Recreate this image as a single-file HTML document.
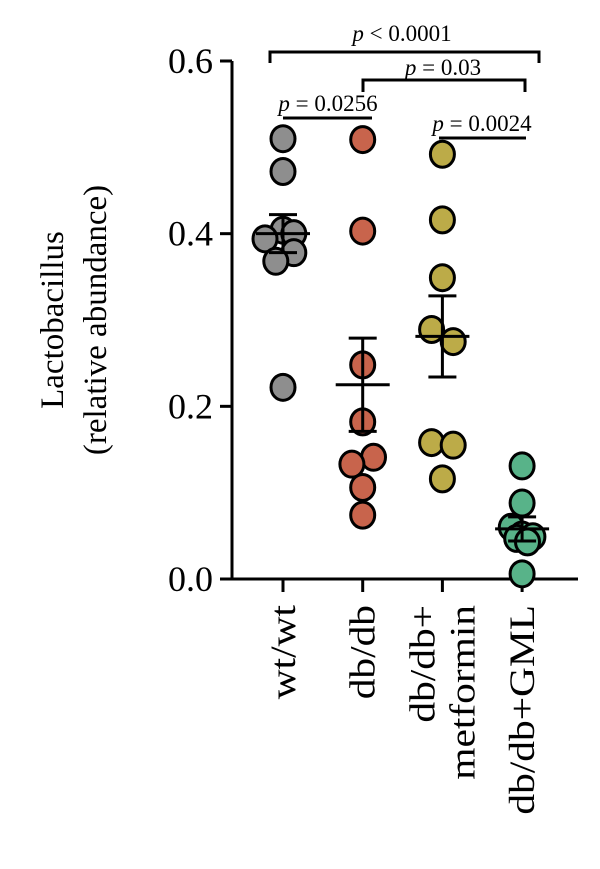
<!DOCTYPE html>
<html><head><meta charset="utf-8"><style>
html,body{margin:0;padding:0;background:#fff;}
svg{display:block;font-family:"Liberation Serif",serif;}
</style></head><body>
<svg id="chart" width="600" height="869">
<g id="axes"></g><g id="marks"></g><g id="ann"></g>
</svg>
<script>
const categories = ["wt/wt","db/db","db/db+ metformin","db/db+GML"];
const wtValues = [0.51,0.472,0.404,0.40,0.394,0.378,0.368,0.222];
const dbValues = [0.509,0.403,0.248,0.182,0.141,0.133,0.106,0.074];
const metValues = [0.492,0.416,0.349,0.289,0.275,0.158,0.155,0.116];
const gmlValues = [0.131,0.088,0.06,0.051,0.049,0.047,0.043,0.006];
const means = [0.40,0.225,0.281,0.058];
const sems = [0.022,0.054,0.047,0.014];
const yTicks = [0.0,0.2,0.4,0.6];
const yTickLabels = ["0.0","0.2","0.4","0.6"];
const wtJit=[0,0,0,0.6,-1,0.6,-0.4,0], dbJit=[0,0,0,0,0.6,-0.6,0,0], metJit=[0,0,0,-0.6,0.6,-0.6,0.6,0], gmlJit=[0,0,-0.6,0,0.6,-0.3,0.3,0];
const colors=["#8e8e8e","#c8644c","#bcab48","#58b389"];
const NS="http://www.w3.org/2000/svg";
const y=v=>579-v*(518/0.6);
const x=i=>283+i*79.7;
function mk(tag,attrs,parent,txt){const e=document.createElementNS(NS,tag);for(const k in attrs)e.setAttribute(k,attrs[k]);if(txt!=null)e.textContent=txt;parent.appendChild(e);return e;}
const axes=document.getElementById('axes'),marks=document.getElementById('marks'),ann=document.getElementById('ann');
let a=mk('line',{x1:232,y1:y(0.6),x2:232,y2:580.5,stroke:'#000','stroke-width':3},axes);


a=mk('line',{x1:230.5,y1:579,x2:578,y2:579,stroke:'#000','stroke-width':3},axes);


yTicks.forEach((t,i)=>{
 let l=mk('line',{x1:220,x2:232,y1:y(t),y2:y(t),stroke:'#000','stroke-width':3},axes);
 
 
 let tx=mk('text',{x:213,y:y(t)+12,'text-anchor':'end','font-size':36},axes,yTickLabels[i]);
 
 
});
let yt=mk('text',{transform:'translate(63,320) rotate(-90)','text-anchor':'middle','font-size':33},axes,'Lactobacillus');


yt=mk('text',{transform:'translate(106,320) rotate(-90)','text-anchor':'middle','font-size':33},axes,'(relative abundance)');


const xl=[["wt/wt"],["db/db"],["db/db+","metformin"],["db/db+GML"]];
categories.forEach((c,i)=>{
 let l=mk('line',{x1:x(i),x2:x(i),y1:579,y2:592,stroke:'#000','stroke-width':3},axes);
 
 
 const lines=xl[i];
 lines.forEach((s,j)=>{
  const off=(j-(lines.length-1)/2)*40;
  let t=mk('text',{transform:`translate(${x(i)+off+12},605) rotate(-90) scale(1.15,1)`,'text-anchor':'end','font-size':36},axes,s);
  
  
 });
});
const series=[wtValues,dbValues,metValues,gmlValues], jits=[wtJit,dbJit,metJit,gmlJit];
series.forEach((vals,i)=>{
 vals.forEach((v,k)=>{
  let c=mk('ellipse',{cx:x(i)+jits[i][k]*18,cy:y(v),rx:12,ry:13,fill:colors[i],stroke:'#000','stroke-width':3},marks);
  
  
 });
 const m=means[i],s=sems[i];
 let g=mk('path',{d:`M${x(i)-27},${y(m)}H${x(i)+27}M${x(i)},${y(m+s)}V${y(m-s)}M${x(i)-14},${y(m+s)}H${x(i)+14}M${x(i)-14},${y(m-s)}H${x(i)+14}`,stroke:'#000','stroke-width':3,fill:'none'},marks);
 
 
});
function br(d,name){let p=mk('path',{d,stroke:'#000','stroke-width':3,fill:'none'},ann);}
function lab(xx,yy,txt,name){let t=mk('text',{x:xx,y:yy,'text-anchor':'middle','font-size':23},ann);mk('tspan',{'font-style':'italic'},t,'p');mk('tspan',{},t,txt);}
br('M270,63V52H539V63','bracket-wt-gml');lab(402,41,' < 0.0001','p-label-wt-gml');
br('M363,92V80H525V92','bracket-db-gml');lab(443,75,' = 0.03','p-label-db-gml');
br('M283,118H372','line-wt-db');lab(328,111,' = 0.0256','p-label-wt-db');
br('M439,138H526','line-met-gml');lab(482,131,' = 0.0024','p-label-met-gml');
</script>
</body></html>
